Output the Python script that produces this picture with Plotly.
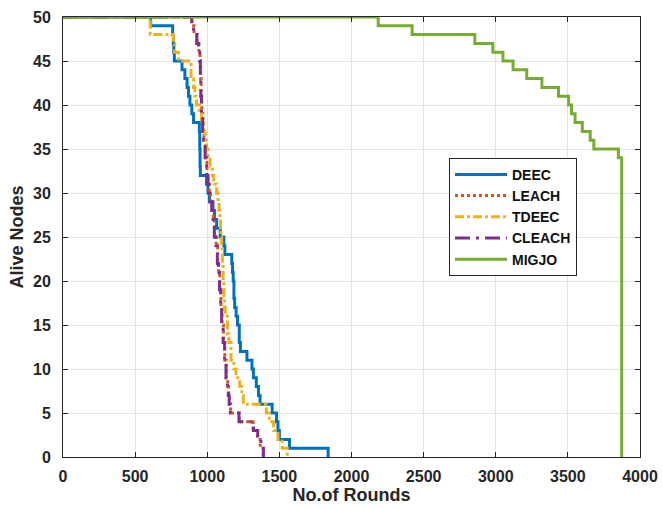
import plotly.graph_objects as go

# Alive nodes per protocol: step change points (round, nodes alive from that round on)
deec_rounds = [0, 608, 760, 765, 768, 772, 825, 845, 860, 870, 880, 893, 905, 945, 948, 950,
               952, 995, 1005, 1015, 1040, 1050, 1065, 1090, 1115, 1122, 1170, 1175, 1180, 1185,
               1190, 1200, 1210, 1222, 1230, 1275, 1310, 1320, 1340, 1355, 1366, 1450, 1480,
               1490, 1500, 1570, 1838]
deec_alive = [50, 49, 48, 47, 46, 45, 44, 43, 42, 41, 40, 39, 38, 37, 35, 33,
              32, 31, 30, 29, 28, 27, 26, 25, 24, 23, 22, 21, 20, 18,
              17, 16, 15, 13, 12, 11, 10, 9, 8, 7, 6, 5, 4,
              3, 2, 1, 0]

leach_rounds = [0, 895, 908, 930, 942, 950, 954, 957, 962, 970, 978, 988, 998, 1007, 1014,
                1022, 1033, 1042, 1050, 1062, 1072, 1079, 1087, 1095, 1102, 1112, 1122, 1132,
                1142, 1148, 1155, 1162, 1222, 1318, 1348, 1367, 1388]
leach_alive = [50, 49, 48, 47, 46, 45, 43, 41, 39, 37, 36, 34, 32, 31, 30,
               29, 28, 27, 25, 24, 22, 21, 19, 17, 15, 13, 11, 9,
               8, 7, 6, 5, 4, 3, 2, 1, 0]

tdeec_rounds = [0, 605, 765, 775, 800, 888, 905, 915, 925, 945, 960, 975, 985, 995, 1005,
                1020, 1035, 1045, 1065, 1075, 1082, 1088, 1092, 1095, 1100, 1105, 1110, 1115,
                1120, 1125, 1140, 1150, 1165, 1185, 1200, 1225, 1240, 1250, 1410, 1430, 1460,
                1490, 1520, 1555]
tdeec_alive = [50, 48, 47, 46, 45, 43, 42, 41, 40, 39, 38, 37, 36, 35, 34,
               33, 32, 31, 30, 29, 28, 27, 26, 25, 24, 22, 20, 18,
               17, 16, 14, 13, 11, 10, 9, 8, 7, 6, 5, 4, 3,
               2, 1, 0]

cleach_rounds = [0, 892, 905, 927, 940, 948, 952, 955, 960, 968, 975, 985, 996, 1005, 1012,
                 1020, 1031, 1040, 1049, 1060, 1070, 1077, 1085, 1093, 1100, 1110, 1120, 1130,
                 1140, 1146, 1152, 1160, 1220, 1320, 1350, 1372, 1389]
cleach_alive = [50, 49, 48, 47, 46, 45, 43, 41, 39, 37, 36, 34, 32, 31, 30,
                29, 28, 27, 25, 24, 22, 21, 19, 17, 15, 13, 11, 9,
                8, 7, 6, 5, 4, 3, 2, 1, 0]

migjo_rounds = [0, 2185, 2420, 2855, 2980, 3050, 3120, 3215, 3320, 3435, 3505, 3525, 3550,
                3600, 3655, 3680, 3850, 3873]
migjo_alive = [50, 49, 48, 47, 46, 45, 44, 43, 42, 41, 40, 39, 38,
               37, 36, 35, 34, 0]

series = [
    ("DEEC", deec_rounds, deec_alive, "#0072BD", "solid"),
    ("LEACH", leach_rounds, leach_alive, "#D95319", "dot"),
    ("TDEEC", tdeec_rounds, tdeec_alive, "#EDB120", "dashdot"),
    ("CLEACH", cleach_rounds, cleach_alive, "#7E2F8E", "longdashdot"),
    ("MIGJO", migjo_rounds, migjo_alive, "#77AC30", "solid"),
]

fig = go.Figure()
for name, xs, ys, color, dash in series:
    fig.add_trace(go.Scatter(
        x=xs, y=ys, name=name, mode="lines", line_shape="hv",
        line=dict(color=color, width=3, dash=dash),
    ))

font_family = "Liberation Sans, Arial, sans-serif"
text_color = "#262626"
axis_common = dict(
    showgrid=True, gridcolor="#e3e3e3", gridwidth=1,
    showline=True, linecolor=text_color, linewidth=1, mirror="ticks",
    ticks="inside", ticklen=5, tickcolor=text_color,
    zeroline=False, automargin=False,
)

fig.update_xaxes(
    range=[0, 4000], dtick=500, tick0=0,
    ticklabelstandoff=5,
    tickfont=dict(family=font_family, size=16, color=text_color, weight="bold"),
    title=dict(text="No.of Rounds", standoff=4,
               font=dict(family=font_family, size=18, color=text_color, weight="bold")),
    **axis_common,
)
fig.update_yaxes(
    range=[0, 50], dtick=5, tick0=0,
    ticklabelstandoff=8,
    tickfont=dict(family=font_family, size=16, color=text_color, weight="bold"),
    title=dict(text="Alive Nodes", standoff=4,
               font=dict(family=font_family, size=18, color=text_color, weight="bold")),
    **axis_common,
)

fig.update_layout(
    width=662, height=508,
    margin=dict(l=63, r=22, t=17, b=51),
    paper_bgcolor="white", plot_bgcolor="white",
    legend=dict(
        x=0.669, y=0.68, xanchor="left", yanchor="top",
        bgcolor="white", bordercolor=text_color, borderwidth=1,
        font=dict(family=font_family, size=14, color="#111111", weight="bold"),
        itemwidth=52, tracegroupgap=0,
    ),
    showlegend=True,
)

fig.write_html("out.html")
